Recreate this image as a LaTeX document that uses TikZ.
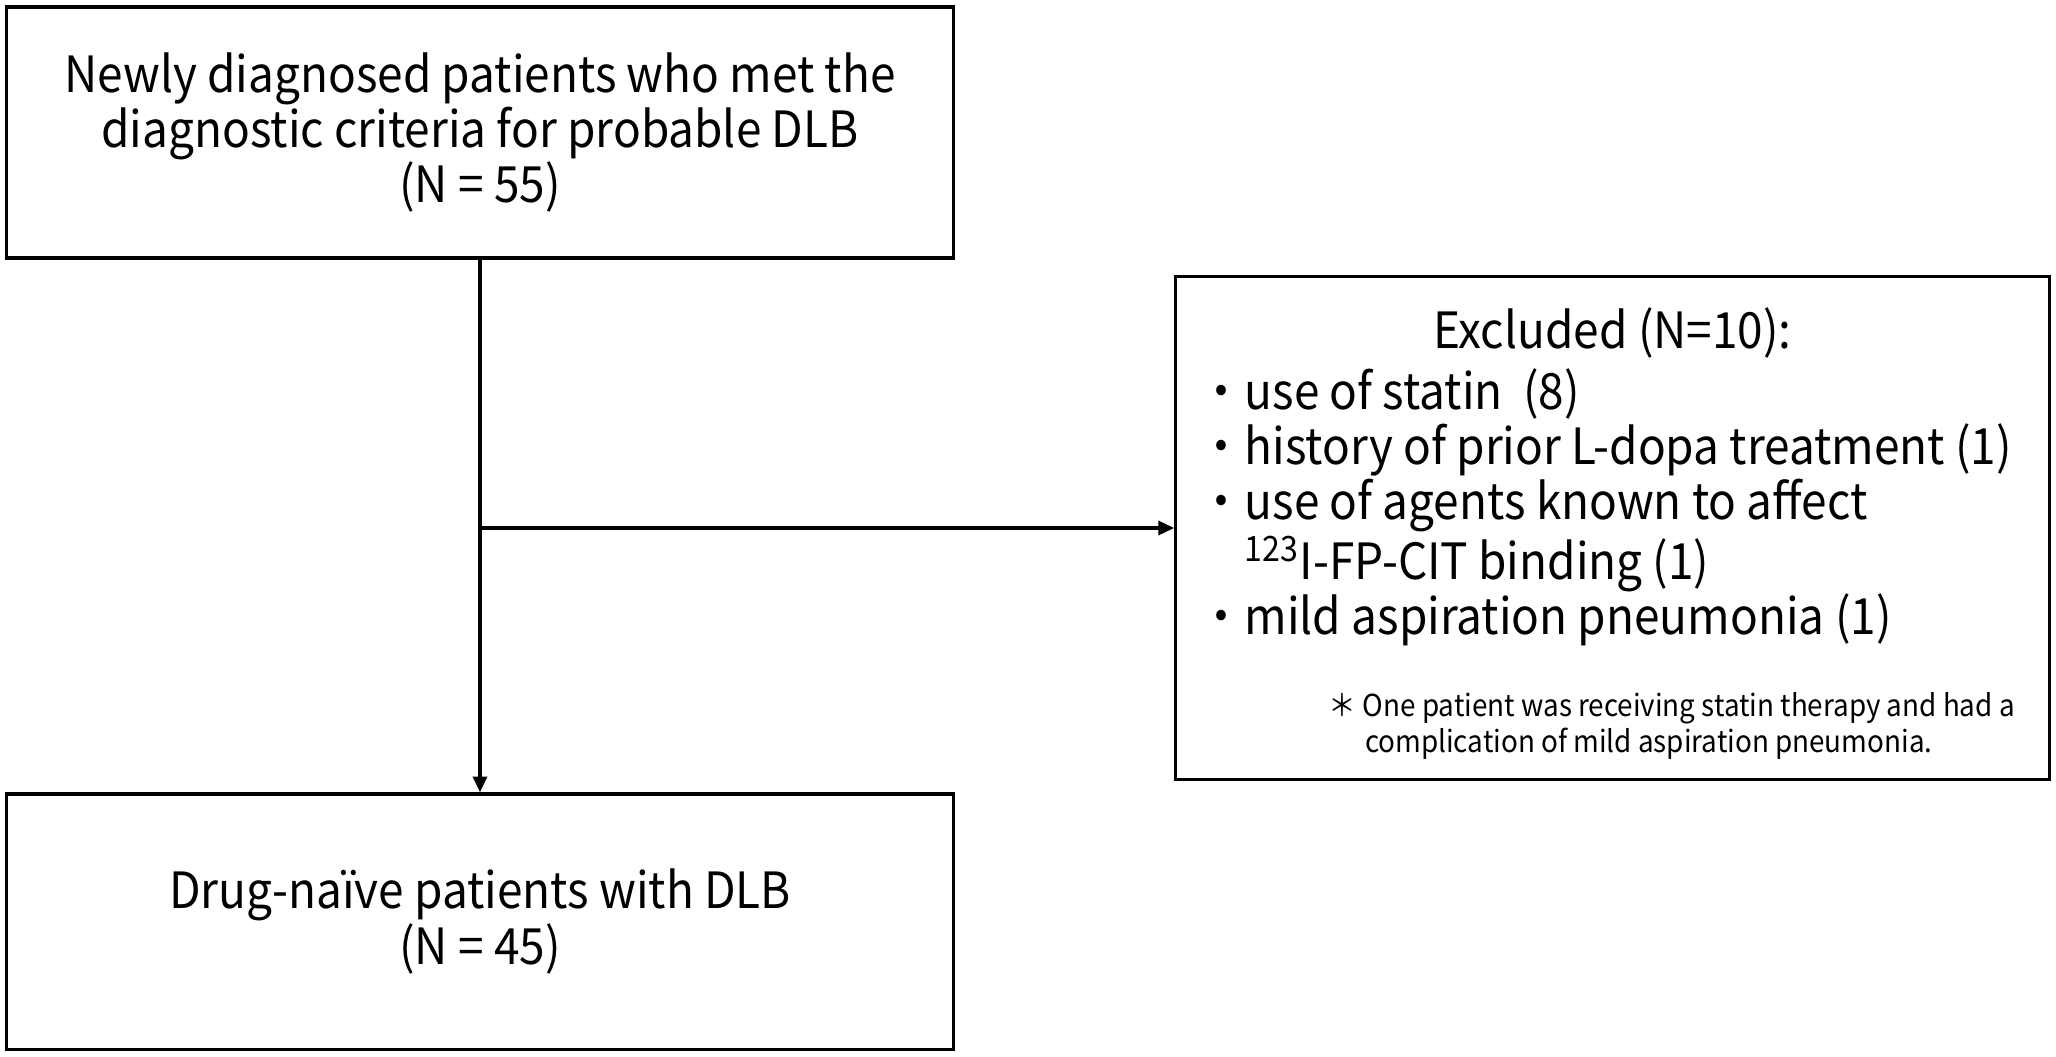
\documentclass[tikz,border=0pt]{standalone}
\usepackage{fontspec}
\setmainfont[FakeStretch=0.92]{Noto Sans CJK JP}
\usetikzlibrary{arrows.meta}
\begin{document}
\begin{tikzpicture}[x=0.01cm,y=-0.01cm,
  box/.style={draw=black,line width=0.9pt,inner sep=0pt,fill=white},
  bigtext/.style={font=\fontsize{14.2}{15.65}\selectfont,align=center},
  smalltext/.style={font=\fontsize{8.6}{8.6}\selectfont,align=left,inner sep=0pt},
  conn/.style={line width=0.9pt,-{Triangle[length=4.5pt,width=4pt]}}]
\fill[white] (0,0) rectangle (2056,1057);
\useasboundingbox (0,0) rectangle (2056,1057);
\node[box,bigtext,minimum width=9.46cm,minimum height=2.51cm] (top) at (480,132.5)
  {Newly diagnosed patients who met the\\ diagnostic criteria for probable DLB\\ (N = 55)};
\node[box,bigtext,minimum width=9.46cm,minimum height=2.55cm] (bottom) at (480,921.5)
  {Drug-naïve patients with DLB\\ (N = 45)};
\node[box,minimum width=8.73cm,minimum height=5.02cm] (excl) at (1612.5,528) {};
\node[bigtext,inner sep=0pt] (title) at (1612.5,333) {Excluded (N=10):};
\node[bigtext,align=left,inner sep=0pt,anchor=north west] (items) at (1198,368)
  {・use of statin\ \ (8)\\
   ・history of prior L-dopa treatment (1)\\
   ・use of agents known to affect\\
   \phantom{・}\textsuperscript{123}I-FP-CIT binding (1)\\
   ・mild aspiration pneumonia (1)};
\node[smalltext,anchor=north west] (note) at (1328,692)
  {＊ One patient was receiving statin therapy and had a\\
   \hspace*{1.2em}complication of mild aspiration pneumonia.};
\draw[conn] (top.south) -- (bottom.north);
\draw[conn] (top.south |- excl.west) -- (excl.west);
\end{tikzpicture}
\end{document}
